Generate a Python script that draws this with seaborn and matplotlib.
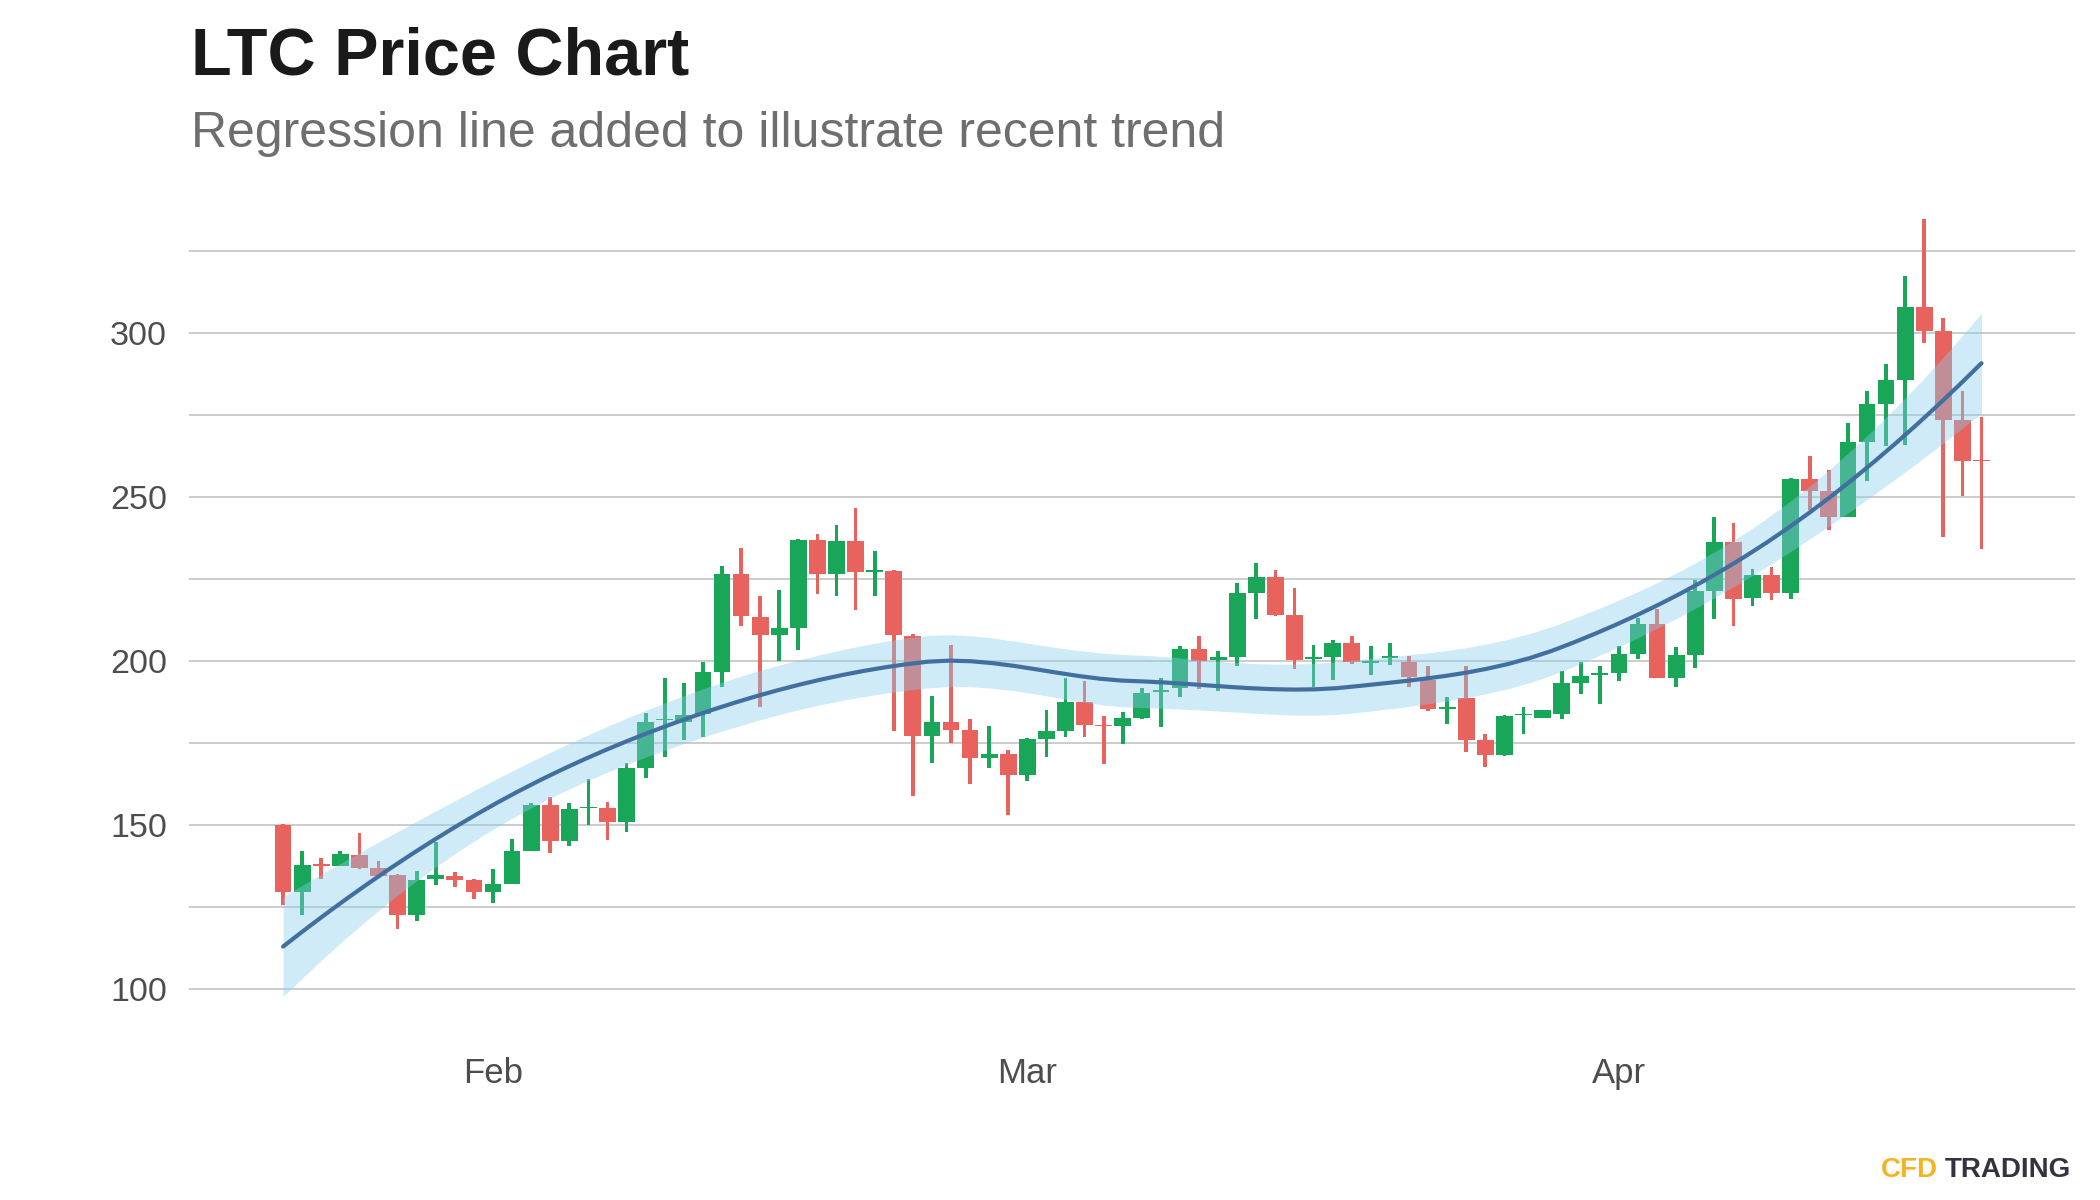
import matplotlib
matplotlib.use("Agg")
import matplotlib.pyplot as plt
import numpy as np
import pandas as pd
import seaborn as sns

# Daily LTC candles, 21 Jan - 20 Apr
start_date = "2021-01-21"
open_ = [150.0, 129.8, 138.2, 137.7, 140.9, 136.9, 134.8, 122.7, 133.5, 134.5,
         133.3, 129.8, 132.2, 142.3, 156.2, 145.3, 155.2, 155.4, 151.1, 167.6,
         182.0, 181.6, 183.8, 196.8, 226.5, 213.6, 208.0, 210.1, 237.0, 226.5,
         236.6, 227.3, 227.6, 207.7, 177.3, 181.6, 179.1, 170.4, 171.7, 165.3,
         176.2, 178.8, 187.5, 180.6, 180.4, 182.6, 190.5, 191.8, 203.7, 200.4,
         201.4, 220.7, 225.8, 214.0, 200.6, 201.4, 205.5, 199.5, 201.0, 199.7,
         194.3, 185.5, 188.7, 176.0, 171.4, 183.5, 182.6, 183.9, 193.5, 195.7,
         196.5, 202.2, 211.4, 195.0, 201.9, 221.4, 236.3, 219.3, 226.2, 220.9,
         255.5, 252.0, 244.1, 266.9, 278.4, 285.8, 308.1, 300.7, 273.6, 261.2]
high = [150.3, 142.0, 140.0, 142.0, 147.6, 139.2, 135.2, 136.2, 145.0, 135.7,
        133.5, 136.6, 145.8, 156.7, 158.7, 156.7, 164.0, 157.2, 168.9, 184.1,
        194.8, 193.3, 199.7, 229.0, 234.5, 219.9, 221.8, 237.3, 238.8, 241.6,
        246.6, 233.6, 227.8, 208.2, 189.4, 205.0, 182.4, 180.3, 173.0, 176.5,
        185.2, 195.0, 194.1, 183.3, 184.5, 191.8, 194.8, 204.8, 207.7, 203.1,
        224.0, 229.9, 227.7, 222.2, 204.9, 206.5, 207.8, 204.6, 205.7, 201.7,
        198.7, 189.0, 198.7, 177.8, 183.6, 186.0, 185.2, 197.1, 199.7, 198.7,
        204.7, 213.1, 216.0, 204.3, 224.8, 243.9, 242.3, 228.1, 228.8, 256.0,
        262.6, 258.3, 272.7, 282.5, 290.6, 317.5, 334.8, 304.6, 282.4, 274.4]
low = [125.7, 122.7, 133.6, 137.5, 136.6, 134.3, 118.3, 120.9, 131.8, 131.1,
       127.4, 126.2, 132.0, 142.0, 141.5, 143.8, 150.1, 145.5, 148.0, 164.5,
       170.9, 176.0, 177.0, 192.0, 210.6, 186.0, 200.2, 203.4, 220.5, 220.0,
       215.5, 220.0, 178.7, 159.0, 168.9, 175.2, 162.5, 167.4, 153.1, 163.5,
       170.7, 177.0, 177.0, 168.6, 174.7, 182.3, 179.9, 189.0, 191.5, 191.0,
       198.6, 212.8, 213.8, 197.6, 192.3, 194.3, 199.1, 195.8, 198.9, 192.3,
       184.8, 180.9, 172.4, 167.9, 171.2, 177.8, 182.6, 182.3, 190.0, 187.0,
       194.1, 200.6, 194.8, 192.1, 198.0, 212.9, 210.9, 216.9, 218.7, 219.0,
       246.0, 240.0, 244.0, 255.1, 265.7, 266.0, 297.0, 237.8, 250.5, 234.1]
close = [129.8, 137.9, 137.6, 141.2, 137.1, 134.6, 122.7, 133.3, 134.8, 133.3,
         129.5, 132.0, 142.2, 156.2, 145.3, 154.9, 155.7, 151.1, 167.4, 181.4,
         182.3, 183.6, 196.6, 226.5, 213.8, 208.0, 210.0, 237.0, 226.5, 236.6,
         227.3, 227.6, 208.0, 177.3, 181.6, 179.1, 170.4, 171.7, 165.3, 176.2,
         178.7, 187.5, 180.6, 180.2, 182.6, 190.2, 191.3, 203.7, 200.2, 201.3,
         220.7, 225.8, 214.0, 200.4, 201.3, 205.5, 199.9, 199.8, 201.3, 195.3,
         185.4, 185.9, 176.0, 171.4, 183.3, 183.9, 185.2, 193.3, 195.5, 196.3,
         202.1, 211.4, 195.0, 201.9, 221.4, 236.3, 219.0, 226.2, 220.9, 255.6,
         252.0, 244.1, 266.8, 278.4, 285.7, 308.1, 300.7, 273.6, 261.2, 261.0]

y_major = [100, 150, 200, 250, 300]
y_minor = [125, 175, 225, 275, 325]

title = "LTC Price Chart"
subtitle = "Regression line added to illustrate recent trend"

UP = "#1aa659"
DOWN = "#e8625e"
LINE = "#41709f"
BAND = "#87ceeb"


def loess(x, y, grid, span=0.75, cell=0.2):
    """Local quadratic fit (tricube weights), interpolated between kd-tree
    vertices like R's loess, with a 95% confidence band."""
    n = len(x)
    q = int(np.floor(n * span))

    def local(x0):
        d = np.abs(x - x0)
        h = np.sort(d)[q - 1]
        w = (1 - np.clip(d / h, 0, 1) ** 3) ** 3
        X = np.column_stack([np.ones(n), x - x0, (x - x0) ** 2])
        XtW = X.T * w
        coef = np.linalg.solve(XtW @ X, XtW)
        return coef[0], coef[1]

    fc = int(np.floor(n * span * cell))
    verts = {x.min(), x.max()}

    def split(pts):
        if len(pts) <= fc:
            return
        m = np.median(pts)
        verts.add(m)
        split(pts[pts <= m])
        split(pts[pts > m])

    split(np.sort(x))
    verts = np.array(sorted(verts))
    rows = [local(v) for v in verts]
    vals = np.array([r[0] for r in rows])
    slopes = np.array([r[1] for r in rows])

    def operator(xs):
        k = np.clip(np.searchsorted(verts, xs, side="right") - 1, 0, len(verts) - 2)
        dx = (verts[k + 1] - verts[k])[:, None]
        t = ((xs - verts[k]) / dx[:, 0])[:, None]
        h00 = 2 * t ** 3 - 3 * t ** 2 + 1
        h10 = t ** 3 - 2 * t ** 2 + t
        h01 = -2 * t ** 3 + 3 * t ** 2
        h11 = t ** 3 - t ** 2
        return (h00 * vals[k] + h10 * dx * slopes[k]
                + h01 * vals[k + 1] + h11 * dx * slopes[k + 1])

    L = operator(x)
    G = operator(grid)
    M = np.eye(n) - L
    MtM = M.T @ M
    d1, d2 = np.trace(MtM), np.trace(MtM @ MtM)
    resid = y - L @ y
    sigma = np.sqrt(resid @ resid / d1)
    df_res = d1 ** 2 / d2
    z = 1.959964
    t = z + (z ** 3 + z) / (4 * df_res)
    fit = G @ y
    se = sigma * np.sqrt((G ** 2).sum(axis=1))
    return fit, fit - t * se, fit + t * se


df = pd.DataFrame({"open": open_, "high": high, "low": low, "close": close})
df["date"] = pd.date_range(start_date, periods=len(df), freq="D")
df["day"] = np.arange(len(df), dtype=float)
df["color"] = np.where(df["close"] >= df["open"], UP, DOWN)
body_low = df[["open", "close"]].min(axis=1)
body_h = (df["close"] - df["open"]).abs().clip(lower=0.5)

grid = np.linspace(df["day"].min(), df["day"].max(), 80)
fit, lo, hi = loess(df["day"].to_numpy(), df["close"].to_numpy(), grid)
smooth = pd.DataFrame({"day": grid, "fit": fit, "lo": lo, "hi": hi})

sns.set_style("white")
plt.rcParams["font.family"] = ["Liberation Sans", "DejaVu Sans"]

fig = plt.figure(figsize=(21, 12), dpi=100)
ax = fig.add_axes([0.09, 0.1483, 0.8981, 0.6833])

# candles: wicks then bodies
ax.bar(df["day"], df["high"] - df["low"], bottom=df["low"], width=0.2,
       color=df["color"], linewidth=0, zorder=2)
ax.bar(df["day"], body_h, bottom=body_low, width=0.88,
       color=df["color"], linewidth=0, zorder=2)

# loess trend with confidence band
ax.fill_between(smooth["day"], smooth["lo"], smooth["hi"], color=BAND,
                alpha=0.4, linewidth=0, zorder=3)
sns.lineplot(data=smooth, x="day", y="fit", color=LINE, linewidth=3, ax=ax,
             zorder=4)

month_starts = df.index[df["date"].dt.day == 1]
ax.set_xticks(df.loc[month_starts, "day"])
ax.set_xticklabels(df.loc[month_starts, "date"].dt.strftime("%b"))
ax.set_yticks(y_major)
ax.set_yticks(y_minor, minor=True)
ax.set_xlim(-4.93, 93.9)
ax.set_ylim(90, 340)
ax.set_xlabel("")
ax.set_ylabel("")

ax.grid(axis="y", which="both", color="#cccccc", linewidth=1.4, zorder=0)
ax.grid(axis="x", visible=False)
ax.set_axisbelow(True)
sns.despine(ax=ax, left=True, bottom=True)
ax.tick_params(axis="x", length=0, pad=25, labelsize=25, labelcolor="#4d4d4d")
ax.tick_params(axis="y", which="both", length=0, pad=16, labelsize=24.5,
               labelcolor="#4d4d4d")

fig.text(0.091, 0.938, title, fontsize=48, fontweight="bold", color="#1a1a1a",
         va="baseline")
fig.text(0.091, 0.8775, subtitle, fontsize=36, color="#6e6e6e", va="baseline")

fig.text(1938 / 2100, 0.0195, "CFD", fontsize=20, fontweight="bold",
         color="#f5b324", ha="right", va="baseline")
fig.text(1945 / 2100, 0.0195, "TRADING", fontsize=20, fontweight="bold",
         color="#33333f", ha="left", va="baseline")

fig.savefig("out.png", dpi=100, facecolor="white")
